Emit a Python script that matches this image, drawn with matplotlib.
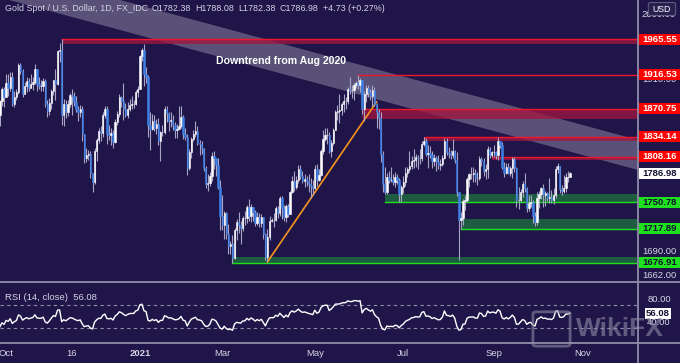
#%% Libraries

import numpy as np
import pandas as pd
import matplotlib
matplotlib.use('Agg')
from matplotlib import pyplot as plt
from matplotlib.patches import Rectangle, Polygon, FancyBboxPatch

#%% Data (XAU/USD daily, Sep 2020 -> Oct 22 2021, business days w/o Dec 25 & Jan 1)

closes = [
    # Sep 2020 (warm-up for RSI, off screen)
    1970, 1944, 1930, 1934, 1932, 1931, 1947, 1946, 1940, 1956, 1954,
    1960, 1944, 1950, 1912, 1900, 1863, 1868, 1862, 1881, 1898, 1886,
    # Oct 2020
    1906, 1899, 1913, 1877, 1887, 1893, 1930, 1922, 1891, 1901, 1908,
    1899, 1904, 1907, 1924, 1904, 1902, 1902, 1908, 1877, 1868, 1879,
    # Nov 2020
    1894, 1909, 1904, 1949, 1951, 1862, 1877, 1866, 1877, 1889, 1888,
    1880, 1871, 1866, 1871, 1837, 1807, 1811, 1812, 1788, 1776,
    # Dec 2020
    1815, 1830, 1841, 1839, 1862, 1871, 1838, 1836, 1839, 1827, 1853,
    1864, 1886, 1881, 1871, 1862, 1870, 1876, 1877, 1877, 1893, 1898,
    # Jan 2021
    1943, 1950, 1918, 1913, 1849, 1844, 1855, 1845, 1851, 1828,
    1840, 1840, 1871, 1865, 1855, 1856, 1850, 1843, 1844, 1848,
    # Feb 2021
    1860, 1838, 1834, 1794, 1814, 1831, 1837, 1842, 1826, 1824,
    1819, 1794, 1774, 1775, 1784, 1809, 1806, 1797, 1770, 1734,
    # Mar 2021
    1723, 1737, 1711, 1697, 1700, 1683, 1716, 1726, 1722, 1719, 1731, 1731,
    1745, 1734, 1745, 1738, 1725, 1733, 1725, 1732, 1711, 1684, 1708,
    # Apr 2021
    1728, 1729, 1729, 1743, 1737, 1756, 1744, 1732, 1746, 1736, 1764,
    1777, 1770, 1779, 1793, 1783, 1777, 1780, 1777, 1773, 1771, 1768,
    # May 2021
    1792, 1779, 1785, 1815, 1831, 1836, 1836, 1815, 1826, 1843, 1867,
    1868, 1869, 1877, 1881, 1881, 1898, 1896, 1896, 1903, 1905,
    # Jun 2021
    1903, 1909, 1871, 1891, 1899, 1893, 1888, 1896, 1877, 1866, 1859,
    1812, 1774, 1764, 1782, 1778, 1779, 1776, 1782, 1779, 1761, 1770,
    # Jul 2021
    1776, 1787, 1792, 1796, 1803, 1804, 1808, 1806, 1807, 1825, 1829,
    1812, 1813, 1810, 1803, 1806, 1802, 1798, 1799, 1806, 1829, 1814,
    # Aug 2021
    1813, 1810, 1815, 1804, 1763, 1729, 1731, 1752, 1753, 1780, 1786,
    1786, 1787, 1781, 1781, 1805, 1803, 1790, 1792, 1818, 1810, 1814,
    # Sep 2021
    1814, 1810, 1828, 1823, 1795, 1788, 1795, 1788, 1794, 1805, 1794,
    1753, 1754, 1764, 1774, 1768, 1743, 1750, 1751, 1734, 1726, 1756,
    # Oct 2021
    1761, 1769, 1760, 1762, 1756, 1757, 1754, 1760, 1793, 1796, 1767,
    1765, 1769, 1782, 1782.25, 1786.98,
]

highs = [
    1992, 1973, 1947, 1946, 1937, 1943, 1955, 1966, 1953, 1960, 1966,
    1973, 1963, 1959, 1953, 1917, 1905, 1874, 1875, 1883, 1900, 1900,
    1917, 1918, 1920, 1921, 1894, 1897, 1933, 1933, 1925, 1907, 1913,
    1912, 1917, 1914, 1931, 1925, 1913, 1910, 1912, 1911, 1882, 1885,
    1897, 1910, 1925, 1951, 1960, 1965.55, 1884, 1883, 1883, 1892, 1898,
    1893, 1888, 1875, 1876, 1875, 1838, 1820, 1817, 1815, 1788,
    1820, 1833, 1845, 1848, 1866, 1875, 1875, 1849, 1845, 1843, 1857,
    1868, 1891, 1888, 1906, 1878, 1880, 1884, 1888, 1883, 1896, 1901,
    1944, 1953, 1959, 1927, 1916, 1867, 1864, 1863, 1857, 1859,
    1842, 1849, 1875, 1875, 1866, 1867, 1862, 1854, 1851, 1874,
    1875, 1863, 1845, 1837, 1818, 1834, 1843, 1855, 1848, 1830,
    1828, 1820, 1796, 1786, 1789, 1814, 1815, 1806, 1806, 1778,
    1760, 1740, 1738, 1724, 1703, 1710, 1719, 1730, 1738, 1727, 1734, 1740,
    1747, 1755, 1748, 1745, 1741, 1738, 1737, 1736, 1733, 1713, 1718,
    1734, 1731, 1737, 1746, 1746, 1759, 1758, 1747, 1749, 1748, 1765,
    1784, 1790, 1784, 1797, 1798, 1790, 1786, 1783, 1786, 1781, 1779,
    1798, 1799, 1792, 1818, 1843, 1845, 1845, 1840, 1830, 1846, 1869,
    1876, 1890, 1880, 1890, 1886, 1900, 1913, 1903, 1906, 1908,
    1916.53, 1912, 1909, 1895, 1903, 1903, 1898, 1903, 1900, 1878, 1870,
    1866, 1816, 1795, 1787, 1790, 1795, 1786, 1789, 1786, 1781, 1772,
    1783, 1795, 1795, 1815, 1809, 1818, 1812, 1810, 1818, 1829, 1834.14,
    1832, 1823, 1822, 1816, 1812, 1809, 1810, 1805, 1810, 1832, 1832,
    1821, 1817, 1831, 1817, 1814, 1760, 1739, 1755, 1760, 1782, 1788,
    1795, 1795, 1793, 1789, 1809, 1808, 1807, 1799, 1822, 1821, 1816,
    1823, 1816, 1834, 1828, 1827, 1801, 1800, 1800, 1796, 1808.16, 1808,
    1795, 1770, 1767, 1777, 1787, 1770, 1760, 1760, 1753, 1738, 1764,
    1765, 1770, 1773, 1765, 1763, 1781, 1766, 1769, 1796, 1800, 1796,
    1772, 1785, 1788, 1790, 1788.08,
]

lows = [
    1962, 1935, 1916, 1916, 1922, 1907, 1926, 1941, 1934, 1936, 1950,
    1951, 1933, 1940, 1882, 1891, 1854, 1849, 1851, 1848, 1874, 1873,
    1886, 1888, 1895, 1874, 1873, 1882, 1890, 1918, 1886, 1890, 1893,
    1894, 1899, 1896, 1904, 1895, 1898, 1895, 1895, 1873, 1860, 1862,
    1870, 1889, 1882, 1903, 1934, 1850, 1848, 1858, 1861, 1873, 1863,
    1874, 1866, 1855, 1860, 1829, 1800, 1801, 1804, 1781, 1764,
    1774, 1803, 1826, 1828, 1834, 1859, 1825, 1830, 1823, 1820, 1826,
    1849, 1860, 1873, 1856, 1860, 1858, 1868, 1871, 1872, 1876, 1887,
    1900, 1935, 1902, 1905, 1834, 1817, 1843, 1841, 1837, 1823,
    1803, 1835, 1837, 1854, 1841, 1847, 1843, 1832, 1832, 1845,
    1846, 1831, 1830, 1785, 1791, 1807, 1829, 1834, 1823, 1810,
    1812, 1790, 1768, 1765, 1771, 1777, 1792, 1783, 1767, 1717,
    1717, 1706, 1706, 1688, 1687, 1676.91, 1682, 1704, 1713, 1699, 1715, 1723,
    1725, 1728, 1726, 1728, 1721, 1723, 1720, 1720, 1706, 1680, 1678,
    1704, 1726, 1720, 1727, 1731, 1734, 1730, 1728, 1726, 1733, 1736,
    1762, 1765, 1767, 1775, 1780, 1775, 1770, 1771, 1764, 1756, 1760,
    1767, 1771, 1777, 1784, 1812, 1829, 1824, 1813, 1808, 1823, 1843,
    1856, 1852, 1862, 1867, 1871, 1877, 1890, 1885, 1883, 1899,
    1898, 1893, 1864, 1855, 1880, 1887, 1882, 1874, 1874, 1845, 1844,
    1802, 1763, 1761, 1761, 1775, 1776, 1772, 1770, 1774, 1750.78, 1751,
    1762, 1771, 1782, 1789, 1793, 1794, 1795, 1792, 1799, 1803, 1822,
    1809, 1794, 1807, 1794, 1796, 1790, 1792, 1791, 1796, 1805, 1810,
    1806, 1805, 1806, 1800, 1758, 1680, 1717.89, 1723, 1741, 1751, 1770,
    1780, 1776, 1776, 1772, 1779, 1796, 1783, 1780, 1781, 1807, 1808,
    1808, 1805, 1804, 1819, 1792, 1782, 1786, 1786, 1784, 1781, 1789,
    1745, 1742, 1751, 1757, 1763, 1738, 1740, 1745, 1725, 1721, 1723,
    1744, 1755, 1745, 1746, 1752, 1750, 1750, 1749, 1756, 1787, 1762,
    1760, 1762, 1764, 1776, 1782.38,
]

last_open = 1782.38
holidays = ['2020-12-25', '2021-01-01']

# horizontal levels: (price, zone edge, start date, kind)
levels = [
    (1965.55, 1959.5, '2020-11-09', 'res'),
    (1916.53, 1916.53, '2021-06-01', 'res'),
    (1870.75, 1857.0, '2021-06-03', 'res'),
    (1834.14, 1828.8, '2021-07-15', 'res'),
    (1808.16, 1804.5, '2021-08-31', 'res'),
    (1750.78, 1761.0, '2021-06-18', 'sup'),
    (1717.89, 1730.0, '2021-08-10', 'sup'),
    (1676.91, 1684.0, '2021-03-08', 'sup'),
]

# trendline and downtrend channel anchors (date / bar, price)
trend_pts = [('2021-03-31', 1678.0), ('2021-06-14', 1880.0)]
chan_upper = [(19.0, 2068.5), (329.1, 1829.8)]
chan_lower = [(19.0, 2024.8), (329.1, 1791.2)]

month_ticks = [('2020-10-01', 'Oct'), ('2020-11-16', '16'), ('2021-01-04', '2021'),
               ('2021-03-01', 'Mar'), ('2021-05-03', 'May'), ('2021-07-01', 'Jul'),
               ('2021-09-01', 'Sep'), ('2021-11-01', 'Nov')]

rsi_label_value = 56.08

#%% Colors / fonts

BG    = '#201548'
WICK  = '#a7a4c6'
UP    = '#ffffff'
DOWN  = '#3d80e4'
TXT   = '#d6d4e6'
SEP   = '#8f8ca8'
RED   = '#f0142d'
GREEN = '#1fe01f'

plt.rcParams['font.family'] = ['Liberation Sans Narrow', 'Liberation Sans', 'DejaVu Sans']

#%% Dates -> bar index

all_days = pd.bdate_range('2020-09-01', '2021-12-31')
all_days = all_days[~all_days.isin(pd.to_datetime(holidays))]
n = len(closes)

def idx(d):
    return int(all_days.get_loc(pd.Timestamp(d)))

c = np.array(closes, float)
h = np.array(highs, float)
l = np.array(lows, float)
o = np.r_[c[0], c[:-1]]
o[-1] = last_open
h = np.maximum(h, np.maximum(o, c))
l = np.minimum(l, np.minimum(o, c))
x = np.arange(n)

# RSI(14) Wilder
d = np.diff(c)
g = np.where(d > 0, d, 0.0)
lo = np.where(d < 0, -d, 0.0)
ag = np.zeros(n); al = np.zeros(n)
ag[14] = g[:14].mean(); al[14] = lo[:14].mean()
for i in range(15, n):
    ag[i] = (ag[i-1]*13 + g[i-1]) / 14
    al[i] = (al[i-1]*13 + lo[i-1]) / 14
rsi = np.full(n, np.nan)
rsi[14:] = 100 - 100/(1 + ag[14:]/al[14:])

#%% Figure

W, H = 680, 363
fig = plt.figure(figsize=(W/100, H/100), dpi=100)
fig.patch.set_facecolor(BG)

ax  = fig.add_axes([0, 1-282/H, 638/W, 282/H])
rax = fig.add_axes([0, 1-343/H, 638/W, 61/H])
for a in (ax, rax):
    a.set_facecolor(BG)
    for s in a.spines.values():
        s.set_visible(False)
    a.tick_params(length=0, labelleft=False, labelbottom=False)
    a.set_xlim(19.04, 329.05)

ax.set_yscale('log')
ax.set_ylim(1654.2, 2021.2)
ax.set_yticks([])
ax.yaxis.set_minor_locator(matplotlib.ticker.NullLocator())

# downtrend channel
ax.add_patch(Polygon([chan_upper[0], chan_upper[1], chan_lower[1], chan_lower[0]],
                     closed=True, facecolor='white', alpha=0.26, edgecolor='none', zorder=1))
ax.text(216/638, 1-61/282, 'Downtrend from Aug 2020', transform=ax.transAxes,
        color='white', fontsize=7.6, fontweight='bold', va='center', ha='left', zorder=6)

# levels
for price, edge, start, kind in levels:
    s = idx(start)
    col = RED if kind == 'res' else GREEN
    zc = '#a3163f' if kind == 'res' else '#1d5c40'
    za = 0.75 if kind == 'res' else 1.0
    if edge != price:
        ax.fill_between([s, 340], min(price, edge), max(price, edge),
                        color=zc, alpha=za, lw=0, zorder=2)
    ax.plot([s, 340], [price, price], color=col, lw=1.0, zorder=3)

# trendline
t0, t1 = trend_pts
ax.plot([idx(t0[0]), idx(t1[0])], [t0[1], t1[1]], color='#f7941d', lw=1.2, zorder=3)

# candles
ax.vlines(x, l, h, color=WICK, lw=0.8, zorder=4)
up = c >= o
cols = np.where(up, UP, DOWN)
ax.bar(x, np.abs(c-o), bottom=np.minimum(o, c), width=0.66, color=cols,
       edgecolor=cols, linewidth=0.4, zorder=5)

# RSI panel
rax.set_ylim(3.9, 110)
rax.set_yticks([])
for lvl in (70, 30):
    rax.axhline(lvl, color=SEP, lw=0.8, ls=(0, (3, 3)), zorder=1)
rax.plot(x, rsi, color='white', lw=1.0, zorder=3)
rax.text(5/638, 1-(297-282)/61, 'RSI (14, close)  %.2f' % rsi_label_value,
         transform=rax.transAxes, color=TXT, fontsize=6.8, va='center', ha='left')

# x tick labels
for dstr, lab in month_ticks:
    xi = idx(dstr)
    xp = rax.transData.transform((xi, 0))[0] / W
    fig.text(xp, 1-353/H, lab, color=TXT, fontsize=6.8, ha='center', va='center',
             fontweight='bold' if lab == '2021' else 'normal')

# separators
fig.add_artist(plt.Line2D([0, 1], [1-282/H, 1-282/H], color=SEP, lw=1.3))
fig.add_artist(plt.Line2D([0, 1], [1-343/H, 1-343/H], color=SEP, lw=1.3))
fig.add_artist(plt.Line2D([638/W, 638/W], [0, 1], color=SEP, lw=1.3))

# header
fig.text(5/W, 1-8.5/H, 'Gold Spot / U.S. Dollar, 1D, FX_IDC', color=TXT, fontsize=6.4, va='center')
chg = c[-1] - c[-2]
hdr = [(152, 'O%.2f' % o[-1]), (195, 'H%.2f' % h[-1]), (238, 'L%.2f' % l[-1]),
       (280, 'C%.2f' % c[-1]), (323, '%+.2f (%+.2f%%)' % (chg, chg/c[-2]*100))]
for xp, t in hdr:
    fig.text(xp/W, 1-8.5/H, t, color=TXT, fontsize=6.4, va='center')

# right axis labels
def ypix(a, v):
    return a.transData.transform((20, v))[1]

def plain_label(a, v, t):
    fig.text(659/W, ypix(a, v)/H, t, color=TXT, fontsize=6.8, ha='center', va='center')

def tag(a, v, t, bg, fg, x0=639, w=41):
    yp = ypix(a, v)
    fig.add_artist(Rectangle((x0/W, (yp-5.5)/H), w/W, 11/H, transform=fig.transFigure,
                             facecolor=bg, edgecolor='none', zorder=5))
    fig.text((x0+w/2)/W, yp/H, t, color=fg, fontsize=6.8, fontweight='bold',
             ha='center', va='center', zorder=6)

for v in (2000.0, 1910.0, 1690.0, 1662.0):
    plain_label(ax, v, '%.2f' % v)
for price, edge, start, kind in levels:
    if kind == 'res':
        tag(ax, price, '%.2f' % price, '#ff0000', 'white')
    else:
        tag(ax, price, '%.2f' % price, GREEN, '#101030')
tag(ax, c[-1], '%.2f' % c[-1], 'white', '#101030')

plain_label(rax, 80, '80.00')
plain_label(rax, 40, '40.00')
tag(rax, rsi_label_value, '%.2f' % rsi_label_value, 'white', '#101030', x0=645, w=26)

# USD box
fig.add_artist(FancyBboxPatch((651/W, 1-14/H), 22/W, 10/H, boxstyle='round,pad=0.004',
                              transform=fig.transFigure, facecolor='#2a2050',
                              edgecolor='#6d6a8a', lw=0.6, zorder=7))
fig.text(662/W, 1-9/H, 'USD', color='white', fontsize=6.3, ha='center', va='center', zorder=8)

# WikiFX watermark
fig.add_artist(FancyBboxPatch((537/W, 1-344/H), 29/W, 30/H, boxstyle='round,pad=0.006',
                              transform=fig.transFigure, facecolor='none',
                              edgecolor='#8e8ba6', lw=2.0, alpha=0.6, zorder=7))
fig.text(620/W, 1-329/H, 'WikiFX', color='#8e8ba6', alpha=0.6, fontsize=19,
         fontweight='bold', ha='center', va='center', zorder=7)

fig.savefig('out.png', dpi=100, facecolor=BG)
